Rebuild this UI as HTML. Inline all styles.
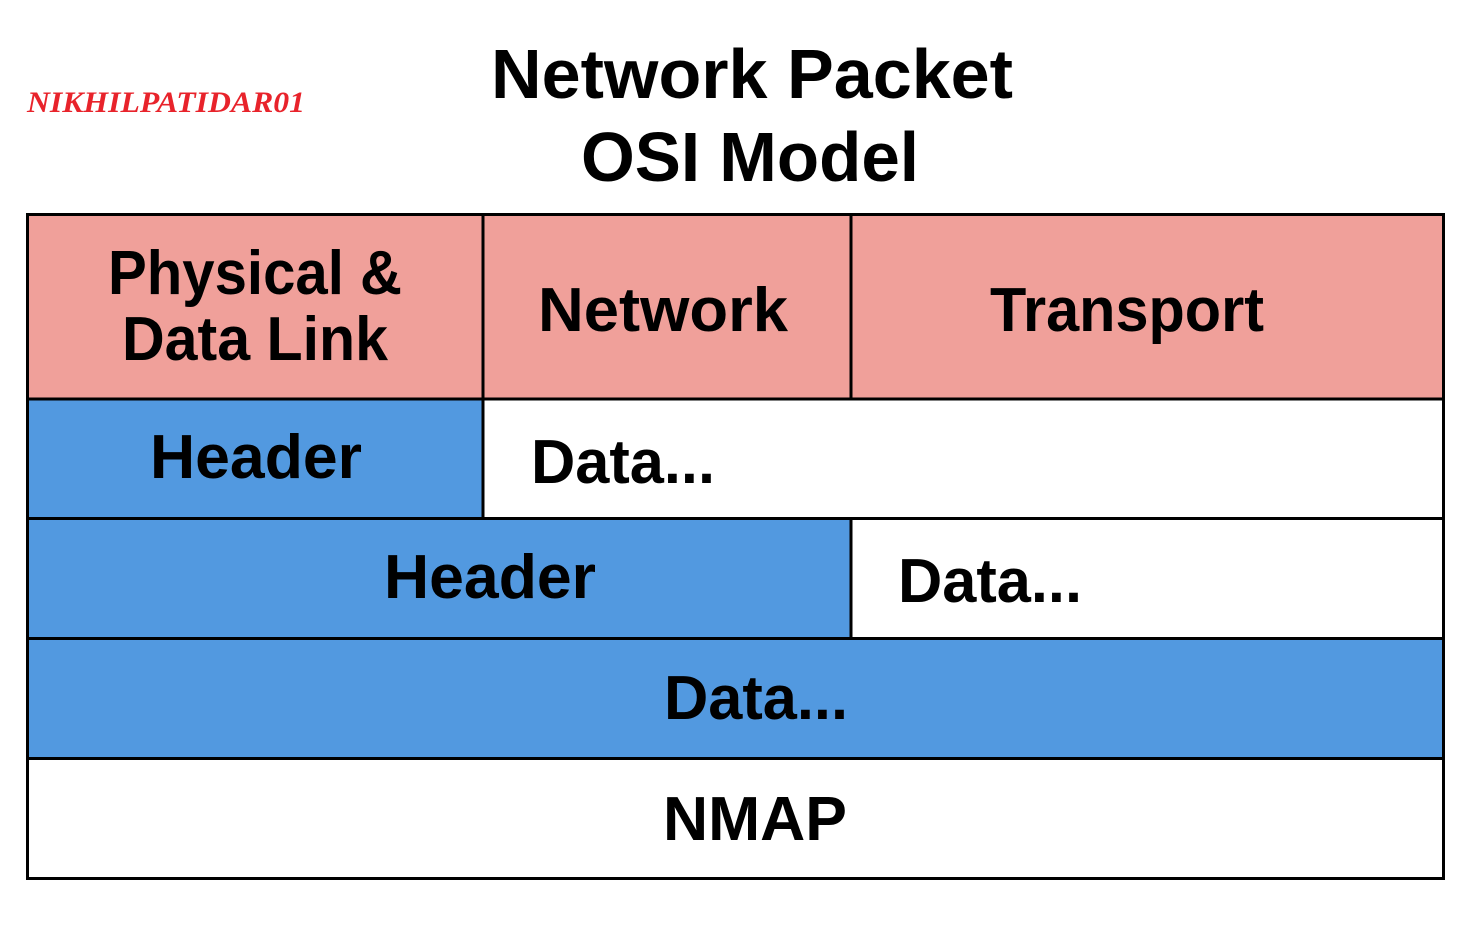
<!DOCTYPE html>
<html><head><meta charset="utf-8"><style>
html,body{margin:0;padding:0;background:#fff;}
body{width:1475px;height:929px;overflow:hidden;position:relative;}
svg text{font-family:"Liberation Sans",sans-serif;font-weight:bold;fill:#000;}
</style></head><body>
<svg width="1475" height="929" viewBox="0 0 1475 929" xmlns="http://www.w3.org/2000/svg">
<rect width="1475" height="929" fill="#fff"/>
<text x="27" y="112" style="font-family:'Liberation Serif',serif;font-style:italic;font-weight:bold;fill:#e8232b" font-size="30" textLength="278" lengthAdjust="spacingAndGlyphs">NIKHILPATIDAR01</text>
<text x="752" y="98" font-size="70" text-anchor="middle" textLength="522" lengthAdjust="spacingAndGlyphs">Network Packet</text>
<text x="750" y="181" font-size="70" text-anchor="middle" textLength="338" lengthAdjust="spacingAndGlyphs">OSI Model</text>
<rect x="27" y="213" width="1418" height="186" fill="#f0a09a"/>
<rect x="27" y="399" width="456" height="119" fill="#5299e0"/>
<rect x="27" y="518" width="824" height="120" fill="#5299e0"/>
<rect x="27" y="638" width="1418" height="120" fill="#5299e0"/>
<g stroke="#000" stroke-width="3" fill="none">
<rect x="27.5" y="214.5" width="1416" height="664"/>
<line x1="27" y1="399" x2="1445" y2="399"/>
<line x1="27" y1="518.5" x2="1445" y2="518.5"/>
<line x1="27" y1="638.5" x2="1445" y2="638.5"/>
<line x1="27" y1="758.5" x2="1445" y2="758.5"/>
<line x1="483" y1="214" x2="483" y2="518"/>
<line x1="851" y1="214" x2="851" y2="399"/>
<line x1="851" y1="518" x2="851" y2="638"/>
</g>
<g font-size="62">
<text x="255" y="294" text-anchor="middle" textLength="294" lengthAdjust="spacingAndGlyphs">Physical &amp;</text>
<text x="255" y="360" text-anchor="middle" textLength="266" lengthAdjust="spacingAndGlyphs">Data Link</text>
<text x="663" y="331" text-anchor="middle" textLength="250" lengthAdjust="spacingAndGlyphs">Network</text>
<text x="1127" y="331" text-anchor="middle" textLength="274" lengthAdjust="spacingAndGlyphs">Transport</text>
<text x="256" y="478" text-anchor="middle" textLength="212" lengthAdjust="spacingAndGlyphs">Header</text>
<text x="531" y="483" textLength="184" lengthAdjust="spacingAndGlyphs">Data...</text>
<text x="490" y="598" text-anchor="middle" textLength="212" lengthAdjust="spacingAndGlyphs">Header</text>
<text x="898" y="602" textLength="184" lengthAdjust="spacingAndGlyphs">Data...</text>
<text x="756" y="719" text-anchor="middle" textLength="184" lengthAdjust="spacingAndGlyphs">Data...</text>
<text x="755" y="840" text-anchor="middle" textLength="184" lengthAdjust="spacingAndGlyphs">NMAP</text>
</g>
</svg>
</body></html>
